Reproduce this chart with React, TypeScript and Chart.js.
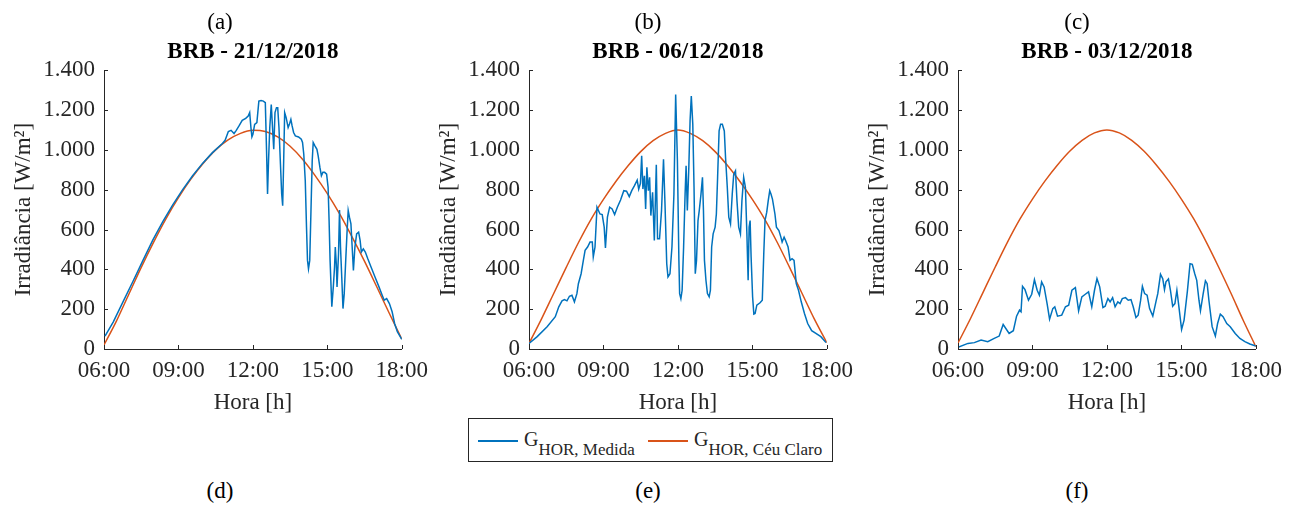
import React, { useEffect, useRef } from "react";
import { Chart, registerables } from "chart.js";

Chart.register(...registerables);

const FONT = '"Liberation Serif", "Times New Roman", serif';
const BLUE = "#0072BD";
const ORANGE = "#D95319";
const AXIS = "#262626";

// x ticks (hours) and y ticks (W/m²)
const xTickValues = [6, 9, 12, 15, 18];
const yTickValues = [0, 200, 400, 600, 800, 1000, 1200, 1400];

// clear-sky curves sampled every half hour
const clearTimes = [6, 6.5, 7, 7.5, 8, 8.5, 9, 9.5, 10, 10.5, 11, 11.5, 12, 12.5, 13, 13.5, 14, 14.5, 15, 15.5, 16, 16.5, 17, 17.5, 18];
const clearA = [20, 140, 275, 410, 537, 655, 760, 853, 933, 1000, 1050, 1083, 1098, 1092, 1065, 1018, 953, 872, 780, 677, 562, 440, 310, 178, 50];
const clearB = [28, 150, 280, 410, 536, 651, 751, 841, 921, 991, 1046, 1083, 1100, 1083, 1046, 991, 921, 841, 751, 651, 536, 410, 280, 150, 32];
const clearC = [30, 152, 282, 412, 538, 653, 753, 843, 923, 993, 1048, 1085, 1100, 1085, 1048, 993, 923, 843, 753, 653, 538, 412, 280, 142, 12];

// (a) 21/12/2018 measured
const timesA = [6.04, 6.37, 6.77, 7.17, 7.57, 7.97, 8.37, 8.77, 9.17, 9.57, 9.97, 10.37, 10.77, 10.88, 11.01, 11.12, 11.24, 11.33, 11.44, 11.57, 11.71, 11.81, 11.87, 11.92, 11.96, 12.0, 12.07, 12.16, 12.24, 12.33, 12.42, 12.5, 12.55, 12.59, 12.63, 12.68, 12.74, 12.79, 12.84, 12.89, 12.95, 13.0, 13.05, 13.11, 13.16, 13.2, 13.24, 13.28, 13.34, 13.42, 13.47, 13.53, 13.58, 13.64, 13.71, 13.84, 13.95, 14.0, 14.05, 14.11, 14.16, 14.2, 14.24, 14.29, 14.34, 14.39, 14.43, 14.5, 14.58, 14.63, 14.7, 14.76, 14.82, 14.89, 14.97, 15.03, 15.07, 15.11, 15.16, 15.18, 15.24, 15.29, 15.32, 15.36, 15.39, 15.45, 15.49, 15.53, 15.58, 15.63, 15.68, 15.74, 15.79, 15.84, 15.89, 15.95, 16.0, 16.05, 16.11, 16.18, 16.26, 16.32, 16.37, 16.45, 16.53, 16.63, 16.76, 16.92, 17.08, 17.21, 17.29, 17.39, 17.5, 17.61, 17.71, 17.82, 18.0];
const measuredA = [65, 135, 238, 340, 445, 548, 640, 724, 800, 870, 932, 986, 1032, 1048, 1092, 1098, 1082, 1098, 1120, 1148, 1158, 1170, 1187, 1112, 1065, 1078, 1128, 1137, 1245, 1248, 1245, 1237, 995, 778, 945, 1112, 1228, 1112, 1003, 1187, 1212, 1212, 1112, 928, 778, 720, 945, 1187, 1162, 1112, 1128, 1153, 1120, 1087, 1070, 1065, 1053, 1037, 978, 845, 612, 445, 403, 445, 695, 945, 1037, 1020, 1003, 970, 912, 870, 887, 887, 878, 812, 645, 445, 278, 212, 312, 412, 512, 428, 312, 478, 698, 512, 362, 203, 278, 445, 578, 695, 662, 628, 512, 395, 512, 578, 587, 545, 487, 503, 487, 453, 412, 362, 312, 270, 245, 253, 228, 187, 128, 87, 48];

// (b) 06/12/2018 measured
const timesB = [6.0, 6.33, 6.73, 7.06, 7.2, 7.33, 7.43, 7.53, 7.63, 7.73, 7.83, 7.93, 7.99, 8.1, 8.19, 8.26, 8.36, 8.46, 8.55, 8.59, 8.66, 8.74, 8.86, 8.95, 9.03, 9.08, 9.16, 9.25, 9.35, 9.45, 9.56, 9.69, 9.82, 9.93, 10.04, 10.14, 10.25, 10.36, 10.42, 10.49, 10.54, 10.59, 10.65, 10.7, 10.75, 10.81, 10.86, 10.91, 10.98, 11.05, 11.13, 11.18, 11.26, 11.34, 11.42, 11.48, 11.55, 11.6, 11.68, 11.76, 11.84, 11.91, 11.98, 12.04, 12.07, 12.12, 12.17, 12.23, 12.29, 12.33, 12.38, 12.44, 12.49, 12.54, 12.6, 12.65, 12.7, 12.75, 12.81, 12.86, 12.93, 12.99, 13.03, 13.07, 13.13, 13.19, 13.26, 13.31, 13.36, 13.42, 13.5, 13.55, 13.6, 13.66, 13.72, 13.79, 13.87, 13.92, 13.99, 14.05, 14.12, 14.19, 14.25, 14.32, 14.38, 14.45, 14.52, 14.58, 14.65, 14.72, 14.78, 14.83, 14.87, 14.91, 14.95, 15.01, 15.06, 15.11, 15.18, 15.31, 15.4, 15.46, 15.51, 15.58, 15.64, 15.7, 15.75, 15.81, 15.91, 15.97, 16.07, 16.15, 16.2, 16.28, 16.34, 16.44, 16.52, 16.6, 16.68, 16.77, 16.86, 16.97, 17.1, 17.23, 17.39, 17.56, 17.76, 17.97];
const measuredB = [28, 62, 112, 162, 212, 242, 248, 242, 265, 270, 237, 278, 328, 378, 445, 495, 512, 537, 537, 462, 512, 712, 678, 675, 612, 508, 662, 712, 703, 675, 712, 748, 795, 792, 765, 795, 820, 848, 803, 832, 970, 803, 870, 703, 912, 795, 862, 670, 787, 545, 925, 553, 553, 695, 953, 728, 428, 362, 378, 512, 778, 1278, 945, 445, 278, 253, 295, 512, 778, 920, 695, 912, 1145, 1270, 1128, 812, 378, 445, 645, 695, 778, 862, 695, 445, 345, 278, 262, 295, 512, 578, 612, 678, 862, 1095, 1128, 1128, 1095, 962, 812, 662, 628, 778, 878, 895, 745, 612, 578, 745, 862, 812, 578, 345, 612, 645, 462, 262, 175, 178, 220, 232, 245, 478, 645, 687, 745, 795, 778, 753, 678, 612, 595, 562, 537, 562, 545, 512, 445, 453, 445, 328, 295, 237, 178, 128, 92, 78, 62, 32];

// (c) 03/12/2018 measured
const timesC = [6.0, 6.4, 6.66, 6.93, 7.2, 7.46, 7.66, 7.82, 8.06, 8.23, 8.36, 8.48, 8.54, 8.6, 8.7, 8.84, 8.97, 9.08, 9.19, 9.28, 9.37, 9.47, 9.59, 9.69, 9.82, 9.9, 10.01, 10.18, 10.33, 10.46, 10.59, 10.73, 10.86, 10.99, 11.13, 11.26, 11.39, 11.5, 11.6, 11.71, 11.84, 11.93, 12.04, 12.13, 12.23, 12.33, 12.44, 12.53, 12.62, 12.75, 12.86, 12.97, 13.06, 13.17, 13.26, 13.36, 13.43, 13.52, 13.62, 13.72, 13.85, 13.99, 14.05, 14.16, 14.25, 14.32, 14.38, 14.48, 14.56, 14.65, 14.74, 14.82, 14.91, 15.01, 15.11, 15.24, 15.35, 15.44, 15.54, 15.62, 15.71, 15.77, 15.88, 15.97, 16.04, 16.11, 16.24, 16.37, 16.46, 16.57, 16.68, 16.83, 16.97, 17.17, 17.36, 17.56, 17.76, 18.0];
const measuredC = [8, 28, 32, 45, 37, 53, 65, 123, 78, 92, 165, 195, 187, 315, 298, 245, 275, 348, 295, 270, 337, 312, 228, 150, 203, 212, 165, 170, 212, 220, 295, 308, 192, 262, 275, 287, 212, 295, 353, 312, 208, 215, 253, 237, 258, 212, 237, 228, 253, 258, 245, 248, 212, 158, 170, 245, 315, 278, 270, 203, 165, 245, 278, 375, 353, 298, 337, 352, 295, 215, 228, 295, 203, 98, 145, 287, 428, 425, 378, 345, 245, 192, 278, 342, 328, 245, 112, 65, 128, 175, 162, 128, 112, 78, 53, 37, 25, 15];

const panelLetters = ["(a)", "(b)", "(c)"];
const bottomLetters = ["(d)", "(e)", "(f)"];
const titles = ["BRB - 21/12/2018", "BRB - 06/12/2018", "BRB - 03/12/2018"];
const legendLabels = ["Medida", "Céu Claro"];

const fmtY = (v: number) => {
  if (v >= 1000) {
    const th = Math.floor(v / 1000);
    const rest = String(v % 1000).padStart(3, "0");
    return `${th}.${rest}`;
  }
  return String(v);
};
const fmtX = (v: number) => `${String(v).padStart(2, "0")}:00`;

const inwardTicks = {
  id: "inwardTicks",
  afterDraw(chart: any) {
    const { ctx, chartArea, scales } = chart;
    ctx.save();
    ctx.strokeStyle = AXIS;
    ctx.lineWidth = 1;
    const len = 4;
    scales.x.ticks.forEach((t: any) => {
      const px = Math.round(scales.x.getPixelForValue(t.value)) + 0.5;
      ctx.beginPath();
      ctx.moveTo(px, chartArea.bottom);
      ctx.lineTo(px, chartArea.bottom - len);
      ctx.stroke();
    });
    scales.y.ticks.forEach((t: any) => {
      const py = Math.round(scales.y.getPixelForValue(t.value)) + 0.5;
      ctx.beginPath();
      ctx.moveTo(chartArea.left, py);
      ctx.lineTo(chartArea.left + len, py);
      ctx.stroke();
    });
    ctx.restore();
  },
};

const CANVAS_W = 436;
const CANVAS_H = 420;
const Y_AXIS_W = 104;
const X_AXIS_H = 71;
const TICK_SIZE = 23;

type PanelProps = {
  left: number;
  title: string;
  times: number[];
  measured: number[];
  clear: number[];
};

function Panel({ left, title, times, measured, clear }: PanelProps) {
  const ref = useRef<HTMLCanvasElement | null>(null);
  useEffect(() => {
    if (!ref.current) return;
    const tickFont = { family: FONT, size: TICK_SIZE, lineHeight: 1.2 };
    const chart = new Chart(ref.current, {
      type: "line",
      data: {
        datasets: [
          {
            label: "G HOR, Medida",
            data: times.map((t, i) => ({ x: t, y: measured[i] })),
            borderColor: BLUE,
            borderWidth: 1.5,
            pointRadius: 0,
            tension: 0,
          },
          {
            label: "G HOR, Céu Claro",
            data: clearTimes.map((t, i) => ({ x: t, y: clear[i] })),
            borderColor: ORANGE,
            borderWidth: 1.5,
            pointRadius: 0,
            cubicInterpolationMode: "monotone",
          },
        ],
      },
      options: {
        responsive: false,
        animation: false,
        devicePixelRatio: 1,
        layout: { padding: { left: 0, right: 30, top: 0, bottom: 0 } },
        plugins: {
          legend: { display: false },
          tooltip: { enabled: false },
          title: {
            display: true,
            text: title,
            fullSize: false,
            color: "#000",
            font: { family: FONT, size: 23, weight: "bold", lineHeight: 1.2 },
            padding: { top: 37.8, bottom: 4.8 },
          },
        },
        scales: {
          x: {
            type: "linear",
            min: 6,
            max: 18,
            afterBuildTicks: (s: any) => {
              s.ticks = xTickValues.map((v) => ({ value: v }));
            },
            ticks: {
              callback: (v: any) => fmtX(Number(v)),
              color: AXIS,
              font: tickFont,
              padding: 8,
              maxRotation: 0,
              autoSkip: false,
            },
            grid: { display: false, drawTicks: false, tickLength: 0 },
            border: { display: true, color: AXIS, width: 1 },
            title: {
              display: true,
              text: "Hora [h]",
              color: AXIS,
              font: tickFont,
              padding: { top: 0, bottom: 3.5 },
            },
            afterFit: (s: any) => {
              s.height = X_AXIS_H;
            },
          },
          y: {
            type: "linear",
            min: 0,
            max: 1400,
            afterBuildTicks: (s: any) => {
              s.ticks = yTickValues.map((v) => ({ value: v }));
            },
            ticks: {
              callback: (v: any) => fmtY(Number(v)),
              color: AXIS,
              font: tickFont,
              padding: 9,
              autoSkip: false,
            },
            grid: { display: false, drawTicks: false, tickLength: 0 },
            border: { display: true, color: AXIS, width: 1 },
            title: {
              display: true,
              text: "Irradiância [W/m²]",
              color: AXIS,
              font: tickFont,
              padding: { top: 9.8, bottom: 0 },
            },
            afterFit: (s: any) => {
              s.width = Y_AXIS_W;
            },
          },
        },
      } as any,
      plugins: [inwardTicks],
    });
    return () => chart.destroy();
  }, [title, times, measured, clear]);

  return (
    <canvas
      ref={ref}
      width={CANVAS_W}
      height={CANVAS_H}
      style={{ position: "absolute", left, top: 0, width: CANVAS_W, height: CANVAS_H }}
    />
  );
}

const labelStyle = (cx: number, cy: number): React.CSSProperties => ({
  position: "absolute",
  left: cx - 40,
  top: cy - 12,
  width: 80,
  height: 24,
  lineHeight: "24px",
  textAlign: "center",
  fontFamily: FONT,
  fontSize: 23,
  color: "#000",
});

export default function App() {
  const panelLefts = [0, 425.3, 854.3];
  const letterCenters = [220, 648, 1077];
  const series = [
    { times: timesA, measured: measuredA, clear: clearA },
    { times: timesB, measured: measuredB, clear: clearB },
    { times: timesC, measured: measuredC, clear: clearC },
  ];
  const legendText: React.CSSProperties = {
    position: "absolute",
    fontFamily: FONT,
    color: AXIS,
    whiteSpace: "nowrap",
    top: 0,
    lineHeight: 1,
  };
  return (
    <div
      style={{
        position: "absolute",
        left: 0,
        top: 0,
        width: 1298,
        height: 530,
        background: "#fff",
        overflow: "hidden",
      }}
    >
      {series.map((s, i) => (
        <Panel key={i} left={panelLefts[i]} title={titles[i]} times={s.times} measured={s.measured} clear={s.clear} />
      ))}
      {panelLetters.map((t, i) => (
        <div key={t} style={labelStyle(letterCenters[i], 22)}>{t}</div>
      ))}
      {bottomLetters.map((t, i) => (
        <div key={t} style={labelStyle(letterCenters[i], 491)}>{t}</div>
      ))}
      <div
        style={{
          position: "absolute",
          left: 468,
          top: 418,
          width: 365,
          height: 44,
          boxSizing: "border-box",
          border: `1px solid ${AXIS}`,
          background: "#fff",
        }}
      >
        <div style={{ position: "absolute", left: 9, top: 21, width: 40, height: 2, background: BLUE }} />
        <div style={{ ...legendText, left: 55, top: 10 }}>
          <span style={{ fontSize: 20 }}>G</span>
          <span style={{ fontSize: 17, position: "relative", top: 9 }}>HOR, {legendLabels[0]}</span>
        </div>
        <div style={{ position: "absolute", left: 179, top: 21, width: 40, height: 2, background: ORANGE }} />
        <div style={{ ...legendText, left: 225, top: 10 }}>
          <span style={{ fontSize: 20 }}>G</span>
          <span style={{ fontSize: 17, position: "relative", top: 9 }}>HOR, {legendLabels[1]}</span>
        </div>
      </div>
    </div>
  );
}
